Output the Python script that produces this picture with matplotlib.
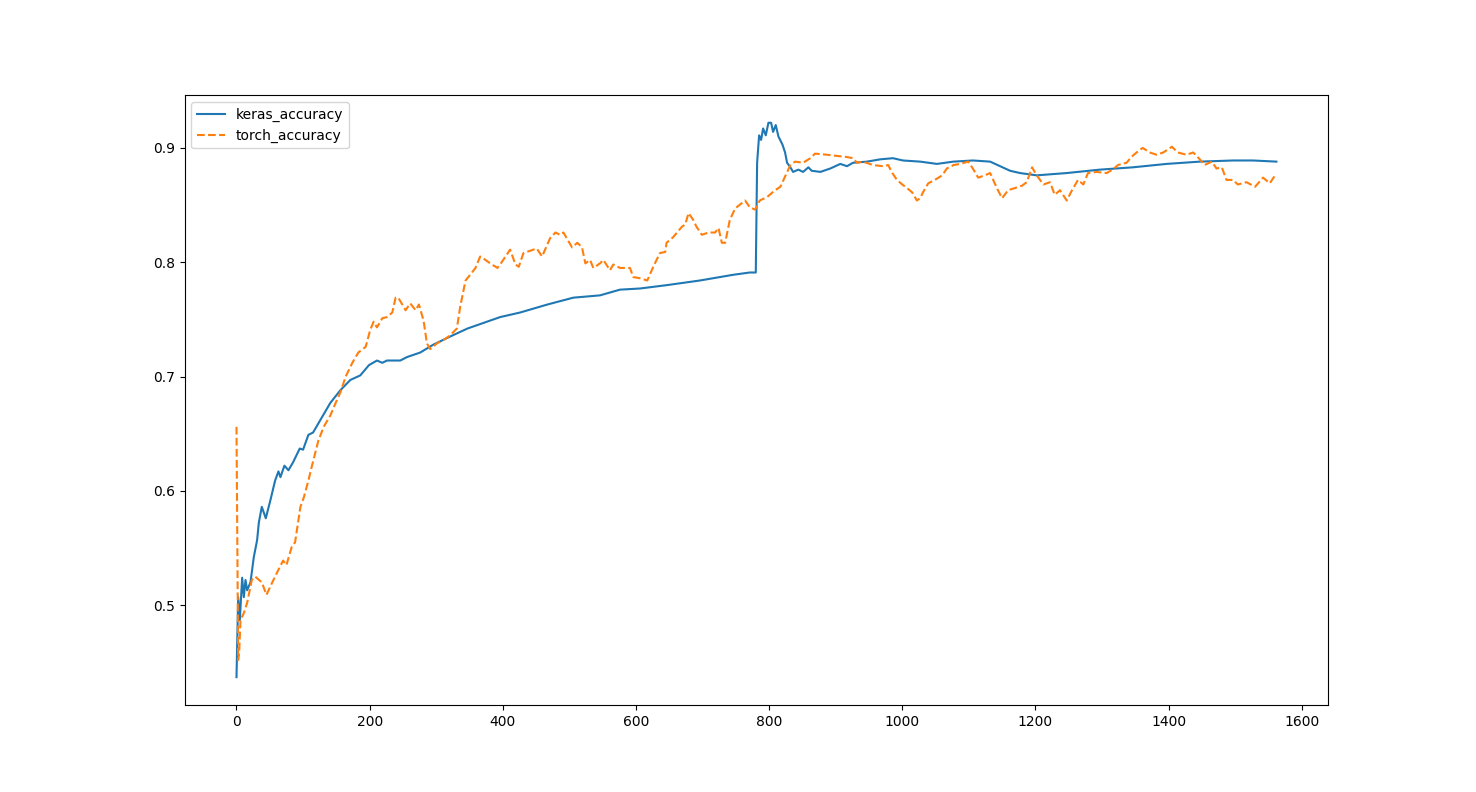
import matplotlib.pyplot as plt

# valores (passo, acuracia)
keras_x = [0, 2.5, 5, 8.5, 11, 13.5, 16, 21, 26, 31, 33.5, 38, 44, 51, 58, 63, 66, 72, 78, 85,
           95, 100, 108, 115, 126, 141, 156, 171, 186, 199, 211, 219, 226, 246, 256, 276, 296,
           321, 347, 396, 426, 467, 506, 546, 576, 606, 647, 696, 746, 771, 780,
           782, 785, 788, 791, 795, 799, 803, 806, 810, 814, 820, 824, 827, 832, 836, 844, 851,
           859, 864, 877, 892, 907, 917, 926, 947, 967, 986, 1001, 1027, 1052, 1077, 1106, 1132,
           1147, 1162, 1177, 1202, 1247, 1297, 1346, 1397, 1447, 1497, 1527, 1562]
keras_acc = [0.437, 0.507, 0.487, 0.524, 0.507, 0.522, 0.513, 0.520, 0.542, 0.557, 0.572, 0.586,
             0.576, 0.592, 0.609, 0.617, 0.612, 0.622, 0.618, 0.625,
             0.637, 0.636, 0.649, 0.651, 0.662, 0.677, 0.688, 0.697, 0.701, 0.710, 0.714, 0.712,
             0.714, 0.714, 0.717, 0.721, 0.728,
             0.735, 0.742, 0.752, 0.756, 0.763, 0.769, 0.771, 0.776, 0.777, 0.780, 0.784, 0.789,
             0.791, 0.791,
             0.887, 0.911, 0.907, 0.917, 0.911, 0.922, 0.922, 0.914, 0.920, 0.910, 0.903, 0.896,
             0.887, 0.883, 0.879, 0.881, 0.879,
             0.883, 0.880, 0.879, 0.882, 0.886, 0.884, 0.887, 0.888, 0.890, 0.891, 0.889, 0.888,
             0.886, 0.888, 0.889, 0.888,
             0.884, 0.880, 0.878, 0.876, 0.878, 0.881, 0.883, 0.886, 0.888, 0.889, 0.889, 0.888]

torch_x = [0, 2.5, 4, 6, 11, 16, 23, 28, 38, 45, 53, 63, 70, 75, 83, 88, 96, 101, 108, 113,
           123, 131, 141, 149, 156, 164, 174, 183, 194, 201, 206, 211, 219, 226, 234, 239, 243,
           249, 254, 261, 269, 274, 281, 286, 291, 301, 311, 321, 331, 336, 344, 351, 359, 366,
           374, 381, 392, 396, 404, 411, 419, 424, 431, 446, 451, 459, 471, 479, 486, 491, 496,
           504, 512, 519, 524, 531, 536, 546, 551, 561, 566, 576, 591, 596, 606, 617, 626, 636,
           644, 646, 656, 669, 674, 679, 686, 691, 699, 709, 719, 724, 729, 734, 741, 749, 764,
           771, 779, 786, 797, 809, 817, 824, 832, 839, 851, 862, 869, 887, 902, 917, 926, 932,
           941, 956, 971, 979, 984, 992, 1000, 1007, 1015, 1022, 1027, 1031, 1039, 1049, 1060,
           1067, 1077, 1087, 1099, 1106, 1114, 1124, 1132, 1142, 1150, 1159, 1170, 1180, 1187,
           1195, 1202, 1212, 1222, 1229, 1237, 1247, 1255, 1264, 1272, 1279, 1292, 1307, 1316,
           1324, 1337, 1344, 1352, 1361, 1372, 1382, 1392, 1405, 1414, 1427, 1437, 1447, 1454,
           1465, 1472, 1480, 1487, 1497, 1504, 1517, 1530, 1542, 1552, 1560]
torch_acc = [0.656, 0.452, 0.458, 0.487, 0.493, 0.502, 0.522, 0.525, 0.520, 0.509, 0.519, 0.531,
             0.539, 0.535, 0.551, 0.555, 0.586, 0.594, 0.609, 0.621,
             0.644, 0.656, 0.666, 0.677, 0.686, 0.700, 0.712, 0.721, 0.726, 0.741, 0.748, 0.743,
             0.751, 0.752, 0.756, 0.769, 0.769,
             0.763, 0.758, 0.764, 0.758, 0.763, 0.749, 0.729, 0.724, 0.729, 0.732, 0.736, 0.742,
             0.761, 0.784, 0.789, 0.795, 0.805,
             0.802, 0.799, 0.795, 0.798, 0.805, 0.811, 0.798, 0.796, 0.808, 0.811, 0.812, 0.805,
             0.821, 0.826, 0.824, 0.826, 0.821,
             0.813, 0.817, 0.813, 0.799, 0.802, 0.795, 0.799, 0.802, 0.793, 0.798, 0.795, 0.795,
             0.787, 0.786, 0.784, 0.796, 0.808,
             0.809, 0.817, 0.822, 0.831, 0.833, 0.843, 0.837, 0.831, 0.824, 0.826, 0.826, 0.830,
             0.817, 0.817, 0.837, 0.847, 0.854,
             0.848, 0.846, 0.854, 0.857, 0.863, 0.866, 0.875, 0.885, 0.888, 0.887, 0.891, 0.895,
             0.894, 0.893, 0.892, 0.891, 0.887,
             0.888, 0.885, 0.884, 0.885, 0.879, 0.872, 0.868, 0.865, 0.861, 0.854, 0.856, 0.861,
             0.869, 0.872, 0.876,
             0.882, 0.885, 0.886, 0.888, 0.882, 0.874, 0.876, 0.878, 0.865, 0.856, 0.863, 0.865,
             0.867, 0.870,
             0.883, 0.876, 0.868, 0.870, 0.859, 0.863, 0.854, 0.863, 0.872, 0.868, 0.878, 0.879,
             0.878, 0.881,
             0.885, 0.887, 0.892, 0.896, 0.900, 0.896, 0.894, 0.896, 0.901, 0.896, 0.894, 0.896,
             0.890, 0.885,
             0.888, 0.882, 0.883, 0.872, 0.872, 0.868, 0.870, 0.866, 0.874, 0.869, 0.876]


def exibir_grafico_acuracia():
    fig, ax = plt.subplots(figsize=(14.76, 7.92), dpi=100)
    ax.plot(keras_x, keras_acc, label='keras_accuracy')
    ax.plot(torch_x, torch_acc, '--', label='torch_accuracy')
    ax.set_xticks([0, 200, 400, 600, 800, 1000, 1200, 1400, 1600])
    ax.legend(loc='upper left')
    fig.savefig('out.png', dpi=100)


if __name__ == '__main__':
    exibir_grafico_acuracia()
